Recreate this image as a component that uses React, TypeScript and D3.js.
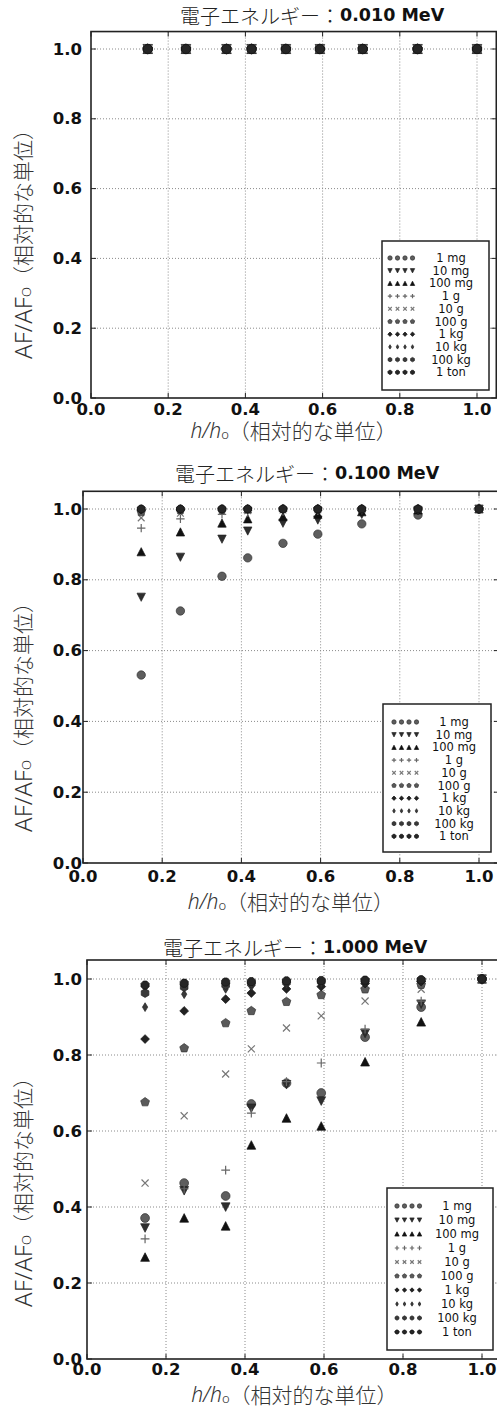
import React from 'react';
import * as d3 from 'd3';

// ---------- data ----------
const H_RATIO = [0.147, 0.246, 0.351, 0.416, 0.505, 0.593, 0.704, 0.846, 1.0];
const SERIES_LABELS = ['1 mg', '10 mg', '100 mg', '1 g', '10 g', '100 g', '1 kg', '10 kg', '100 kg', '1 ton'];
const ENERGY_LABELS = ['0.010 MeV', '0.100 MeV', '1.000 MeV'];
const TICKS = [0, 0.2, 0.4, 0.6, 0.8, 1.0];
const TICK_LABELS = ['0.0', '0.2', '0.4', '0.6', '0.8', '1.0'];

// AF/AF0 at 0.010 MeV (one row per series)
const AF_E0010: number[][] = [
  [1, 1, 1, 1, 1, 1, 1, 1, 1],
  [1, 1, 1, 1, 1, 1, 1, 1, 1],
  [1, 1, 1, 1, 1, 1, 1, 1, 1],
  [1, 1, 1, 1, 1, 1, 1, 1, 1],
  [1, 1, 1, 1, 1, 1, 1, 1, 1],
  [1, 1, 1, 1, 1, 1, 1, 1, 1],
  [1, 1, 1, 1, 1, 1, 1, 1, 1],
  [1, 1, 1, 1, 1, 1, 1, 1, 1],
  [1, 1, 1, 1, 1, 1, 1, 1, 1],
  [1, 1, 1, 1, 1, 1, 1, 1, 1],
];

// AF/AF0 at 0.100 MeV
const AF_E0100: number[][] = [
  [0.531, 0.712, 0.810, 0.862, 0.903, 0.929, 0.958, 0.983, 1.0],
  [0.751, 0.864, 0.915, 0.938, 0.960, 0.969, 0.985, 0.995, 1.0],
  [0.879, 0.935, 0.960, 0.972, 0.978, 0.985, 0.992, 0.997, 1.0],
  [0.946, 0.972, 0.985, 0.990, 0.993, 0.995, 0.997, 0.999, 1.0],
  [0.975, 0.988, 0.993, 0.995, 0.997, 0.998, 0.999, 1.0, 1.0],
  [0.992, 0.996, 0.998, 0.999, 1.0, 1.0, 1.0, 1.0, 1.0],
  [0.998, 0.999, 1.0, 1.0, 1.0, 1.0, 1.0, 1.0, 1.0],
  [0.999, 1.0, 1.0, 1.0, 1.0, 1.0, 1.0, 1.0, 1.0],
  [1.0, 1.0, 1.0, 1.0, 1.0, 1.0, 1.0, 1.0, 1.0],
  [1.0, 1.0, 1.0, 1.0, 1.0, 1.0, 1.0, 1.0, 1.0],
];

// AF/AF0 at 1.000 MeV
const AF_E1000: number[][] = [
  [0.371, 0.463, 0.429, 0.671, 0.726, 0.700, 0.847, 0.926, 1.0],
  [0.345, 0.443, 0.400, 0.660, 0.722, 0.679, 0.857, 0.934, 1.0],
  [0.268, 0.371, 0.350, 0.563, 0.634, 0.613, 0.782, 0.887, 1.0],
  [0.316, 0.448, 0.497, 0.647, 0.730, 0.779, 0.868, 0.942, 1.0],
  [0.463, 0.640, 0.750, 0.816, 0.871, 0.903, 0.942, 0.973, 1.0],
  [0.676, 0.818, 0.884, 0.916, 0.940, 0.958, 0.973, 0.985, 1.0],
  [0.842, 0.916, 0.947, 0.963, 0.974, 0.980, 0.988, 0.993, 1.0],
  [0.926, 0.960, 0.974, 0.980, 0.985, 0.988, 0.992, 0.995, 1.0],
  [0.963, 0.979, 0.984, 0.988, 0.991, 0.993, 0.995, 0.997, 1.0],
  [0.984, 0.989, 0.992, 0.993, 0.995, 0.996, 0.997, 0.998, 1.0],
];

const PANEL_DATA = [AF_E0010, AF_E0100, AF_E1000];

// ---------- styles ----------
type MarkerKind = 'o' | 'v' | '^' | '+' | 'x' | 'p' | 'D' | 'd' | 'h' | '8';
const MARKERS: { kind: MarkerKind; fill: string; edge: string }[] = [
  { kind: 'o', fill: '#5e5e5e', edge: '#333' },
  { kind: 'v', fill: '#2e2e2e', edge: '#222' },
  { kind: '^', fill: '#111', edge: '#111' },
  { kind: '+', fill: 'none', edge: '#666' },
  { kind: 'x', fill: 'none', edge: '#777' },
  { kind: 'p', fill: '#5a5a5a', edge: '#333' },
  { kind: 'D', fill: '#222', edge: '#111' },
  { kind: 'd', fill: '#3a3a3a', edge: '#222' },
  { kind: 'h', fill: '#3a3a3a', edge: '#222' },
  { kind: '8', fill: '#262626', edge: '#111' },
];

const PANELS = [
  { left: 91, x1: 477, y0: 398, y1: 49, titleX: 180, titleY: 15, ylabY: 239, xlabY: 430, xtickY: 409,
    lg: { left: 382, right: 489, top: 241, first: 258, step: 12.7, bottom: 390, mx: 390, lx: 451 }, r: 4.8 },
  { left: 83, x1: 479, y0: 863, y1: 509, titleX: 175, titleY: 473, ylabY: 712, xlabY: 901, xtickY: 876,
    lg: { left: 383, right: 491, top: 704, first: 722, step: 12.7, bottom: 852, mx: 394, lx: 454 }, r: 4.2 },
  { left: 87, x1: 482, y0: 1359, y1: 979, titleX: 163, titleY: 947, ylabY: 1187, xlabY: 1394, xtickY: 1369,
    lg: { left: 387, right: 493, top: 1188, first: 1206, step: 14, bottom: 1350, mx: 397, lx: 457 }, r: 4.4 },
];

const CJK = '"Noto Sans CJK JP", "Noto Sans", sans-serif';
const DEJAVU = '"DejaVu Sans", Verdana, sans-serif';

function poly(n: number, r: number, rot: number, sx = 1): string {
  const pts: [number, number][] = [];
  for (let i = 0; i < n; i++) {
    const a = rot + (i * 2 * Math.PI) / n;
    pts.push([Math.sin(a) * r * sx, -Math.cos(a) * r]);
  }
  return 'M' + pts.map((p) => p[0].toFixed(2) + ',' + p[1].toFixed(2)).join('L') + 'Z';
}

function markerPath(kind: MarkerKind, r: number): string {
  switch (kind) {
    case 'o':
      return d3.symbol(d3.symbolCircle, Math.PI * r * r)() as string;
    case 'v':
      return `M0,${r}L${-r},${-r * 0.95}L${r},${-r * 0.95}Z`;
    case '^':
      return `M0,${-r}L${-r},${r * 0.95}L${r},${r * 0.95}Z`;
    case '+':
      return `M${-r},0L${r},0M0,${-r}L0,${r}`;
    case 'x':
      return `M${-r * 0.8},${-r * 0.8}L${r * 0.8},${r * 0.8}M${-r * 0.8},${r * 0.8}L${r * 0.8},${-r * 0.8}`;
    case 'p':
      return poly(5, r * 1.05, 0);
    case 'D':
      return poly(4, r * 1.0, 0);
    case 'd':
      return poly(4, r * 1.0, 0, 0.6);
    case 'h':
      return poly(6, r * 1.0, 0);
    case '8':
      return poly(8, r * 1.0, Math.PI / 8);
  }
}

function Marker({ x, y, k, r }: { x: number; y: number; k: number; r: number }) {
  const m = MARKERS[k];
  const stroked = m.kind === '+' || m.kind === 'x';
  return (
    <path
      transform={`translate(${x},${y})`}
      d={markerPath(m.kind, r)}
      fill={stroked ? 'none' : m.fill}
      stroke={m.edge}
      strokeWidth={stroked ? 1.2 : 0.7}
    />
  );
}

function Panel({ idx }: { idx: number }) {
  const p = PANELS[idx];
  const data = PANEL_DATA[idx];
  const x = d3.scaleLinear().domain([0, 1]).range([p.left, p.x1]);
  const y = d3.scaleLinear().domain([0, 1]).range([p.y0, p.y1]);
  const xr = x(1.05);
  const yt = y(1.05);
  const lg = p.lg;
  const cx = (p.left + xr) / 2;
  return (
    <g>
      {/* grid */}
      {TICKS.slice(1).map((t) => (
        <line key={'gx' + t} x1={x(t)} x2={x(t)} y1={yt} y2={p.y0} stroke="#8a8a8a" strokeWidth={1} strokeDasharray="1,2" />
      ))}
      {TICKS.slice(1).map((t) => (
        <line key={'gy' + t} x1={p.left} x2={xr} y1={y(t)} y2={y(t)} stroke="#8a8a8a" strokeWidth={1} strokeDasharray="1,2" />
      ))}
      {/* ticks */}
      {TICKS.map((t) => (
        <g key={'t' + t} stroke="#222" strokeWidth={1}>
          <line x1={x(t)} x2={x(t)} y1={p.y0} y2={p.y0 - 5} />
          <line x1={x(t)} x2={x(t)} y1={yt} y2={yt + 5} />
          <line x1={p.left} x2={p.left + 5} y1={y(t)} y2={y(t)} />
          <line x1={xr} x2={xr - 5} y1={y(t)} y2={y(t)} />
        </g>
      ))}
      {/* data */}
      {data.map((row, k) =>
        row.map((v, i) => <Marker key={k + '-' + i} x={x(H_RATIO[i])} y={y(v)} k={k} r={p.r} />)
      )}
      {/* frame */}
      <rect x={p.left} y={yt} width={xr - p.left} height={p.y0 - yt} fill="none" stroke="#222" strokeWidth={1.6} />
      {/* tick labels */}
      {TICKS.map((t, i) => (
        <text key={'xl' + t} x={x(t)} y={p.xtickY} textAnchor="middle" dominantBaseline="central"
          fontFamily={DEJAVU} fontWeight="bold" fontSize={16.5} fill="#111">{TICK_LABELS[i]}</text>
      ))}
      {TICKS.map((t, i) => (
        <text key={'yl' + t} x={82} y={y(t)} textAnchor="end" dominantBaseline="central"
          fontFamily={DEJAVU} fontWeight="bold" fontSize={16.5} fill="#111">{TICK_LABELS[i]}</text>
      ))}
      {/* title */}
      <text x={p.titleX} y={p.titleY} dominantBaseline="central" fill="#222">
        <tspan fontFamily={CJK} fontWeight={300} fontSize={20}>電子エネルギー：</tspan>
        <tspan fontFamily={DEJAVU} fontWeight="bold" fontSize={17.5} fill="#111">{ENERGY_LABELS[idx]}</tspan>
      </text>
      {/* x label */}
      <text x={cx} y={p.xlabY} textAnchor="middle" dominantBaseline="central" fill="#333" fontFamily={CJK} fontWeight={300} fontSize={21}>
        <tspan fontStyle="italic" fontFamily={'"Noto Sans", sans-serif'} fontWeight={300}>h/h</tspan>
        <tspan fontSize={13} dy={4} fontFamily={'"Noto Sans", sans-serif'}>o</tspan>
        <tspan dy={-4}>（相対的な単位）</tspan>
      </text>
      {/* y label */}
      <text transform={`translate(22,${p.ylabY}) rotate(-90)`} textAnchor="middle" dominantBaseline="central"
        fill="#333" fontFamily={CJK} fontWeight={300} fontSize={21}>
        <tspan fontFamily={'"Noto Sans", sans-serif'} fontWeight={300} fontSize={24}>AF/AF</tspan>
        <tspan fontSize={13} dy={4} fontFamily={'"Noto Sans", sans-serif'}>O</tspan>
        <tspan dy={-4}>（相対的な単位）</tspan>
      </text>
      {/* legend */}
      <rect x={lg.left} y={lg.top} width={lg.right - lg.left} height={lg.bottom - lg.top} fill="#fff" stroke="#222" strokeWidth={1.5} />
      {SERIES_LABELS.map((lab, k) => {
        const ly = lg.first + k * lg.step;
        return (
          <g key={'lg' + k}>
            {[0, 1, 2, 3].map((j) => (
              <Marker key={j} x={lg.mx + j * 7.5} y={ly} k={k} r={2.2} />
            ))}
            <text x={lg.lx} y={ly} textAnchor="middle" dominantBaseline="central" fontFamily={DEJAVU}
              fontSize={11.5} fill="#111">{lab}</text>
          </g>
        );
      })}
    </g>
  );
}

export default function App() {
  return (
    <svg width={497} height={1409} viewBox="0 0 497 1409"
      style={{ position: 'absolute', left: 0, top: 0, background: '#fff' }}>
      <rect x={0} y={0} width={497} height={1409} fill="#fff" />
      {[0, 1, 2].map((i) => (
        <Panel key={i} idx={i} />
      ))}
    </svg>
  );
}
